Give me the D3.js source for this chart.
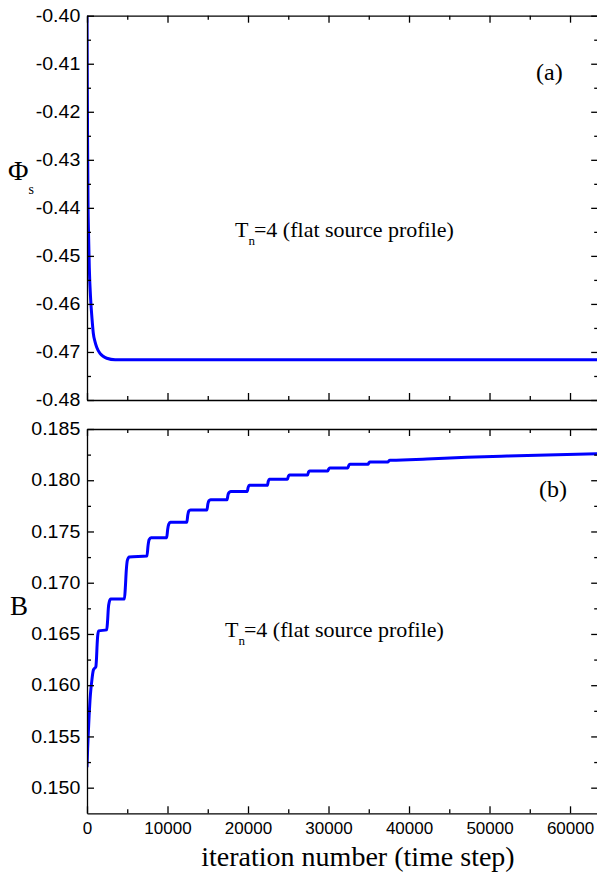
<!DOCTYPE html>
<html>
<head>
<meta charset="utf-8">
<script src="https://cdn.jsdelivr.net/npm/d3@7"></script>
<style>
  body { margin: 0; background: #fff; }
  svg { display: block; }
</style>
</head>
<body>
<div id="chart"></div>
<script>
// x axis (shared)
const xMax = 63500;
const xTicks = [0, 10000, 20000, 30000, 40000, 50000, 60000];
const xMinorTicks = [5000, 15000, 25000, 35000, 45000, 55000];

// panel (a): surface potential
const phiTicks = [-0.48, -0.47, -0.46, -0.45, -0.44, -0.43, -0.42, -0.41, -0.40];
const phiMinorTicks = [-0.475, -0.465, -0.455, -0.445, -0.435, -0.425, -0.415, -0.405];
const phiIter = [0, 40, 80, 124, 200, 286, 460, 620, 783, 1000, 1205, 1615, 2000, 2450, 3500,
  10000, 20000, 30000, 40000, 50000, 63500];
const phiVals = [-0.400, -0.415, -0.428, -0.4384, -0.446, -0.4524, -0.4592, -0.4630, -0.4661, -0.4679,
  -0.4690, -0.4703, -0.4709, -0.4713, -0.4716, -0.4716, -0.4716, -0.4716, -0.4716, -0.4716, -0.4716];

// panel (b): B
const bTicks = [0.150, 0.155, 0.160, 0.165, 0.170, 0.175, 0.180, 0.185];
const bMinorTicks = [0.1525, 0.1575, 0.1625, 0.1675, 0.1725, 0.1775, 0.1825];
const bIter = [0, 80, 160, 260, 370, 480, 580, 700, 800, 1100, 1180, 1260, 1340, 1450,
  2450, 2550, 2650, 2760, 2950, 4650, 4760, 4880, 5020, 5250,
  7450, 7580, 7720, 7950, 9900, 10020, 10150, 10350,
  12400, 12520, 12650, 12850, 14900, 15020, 15150, 15350,
  17400, 17520, 17650, 17850, 19900, 20020, 20150, 20350,
  22400, 22520, 22650, 22850, 24900, 25020, 25150, 25350,
  27400, 27520, 27650, 27850, 29900, 30020, 30150, 30350,
  32400, 32520, 32650, 32850, 34900, 35020, 35150, 35350,
  37400, 37520, 37650, 37850, 40000, 42240, 47200, 52170, 57140, 63500];
const bVals = [0.1520, 0.1538, 0.1553, 0.1570, 0.1585, 0.1596, 0.1603, 0.1611, 0.1615, 0.1618, 0.1626, 0.1640, 0.1649, 0.1653,
  0.1654, 0.1662, 0.1675, 0.1681, 0.1684, 0.1684, 0.1695, 0.1712, 0.1722, 0.1725,
  0.1726, 0.1736, 0.1742, 0.1744, 0.1744, 0.1752, 0.1757, 0.1759,
  0.1759, 0.1766, 0.1770, 0.1771, 0.1771, 0.1777, 0.1780, 0.1781,
  0.1781, 0.1786, 0.1788, 0.1789, 0.1789, 0.1793, 0.1795, 0.1795,
  0.1795, 0.1799, 0.1801, 0.1801, 0.1801, 0.1804, 0.1805, 0.1805,
  0.1805, 0.1808, 0.1809, 0.1809, 0.1809, 0.1811, 0.1812, 0.1812,
  0.1812, 0.18145, 0.18155, 0.18155, 0.18155, 0.18170, 0.18178, 0.18178,
  0.18178, 0.18190, 0.18194, 0.18195, 0.18200, 0.18207, 0.18224, 0.18236, 0.18246, 0.18258];

const W = 597, H = 874;
const left = 87, right = 598.2;
const lineColor = "#0000ff";
const sans = "'Liberation Sans', Arial, sans-serif";
const serif = "'Liberation Serif', 'Times New Roman', serif";

const svg = d3.select("#chart").append("svg")
  .attr("width", W)
  .attr("height", H);

const xScale = d3.scaleLinear().domain([0, xMax]).range([left, right]);

const panels = [
  { top: 15.7, bottom: 400, domain: [-0.48, -0.40], ticks: phiTicks, minor: phiMinorTicks,
    fmt: (d) => d.toFixed(2), iter: phiIter, vals: phiVals, xLabels: false },
  { top: 429, bottom: 813.3, domain: [0.1475, 0.185], ticks: bTicks, minor: bMinorTicks,
    fmt: (d) => d.toFixed(3), iter: bIter, vals: bVals, xLabels: true }
];

const styleAxis = (g) => {
  g.selectAll("path, line").attr("stroke", "#000").attr("stroke-width", 1.3);
  g.selectAll("text").attr("fill", "#000").attr("font-family", sans).attr("font-size", "17px");
};

panels.forEach((p) => {
  const yScale = d3.scaleLinear().domain(p.domain).range([p.bottom, p.top]);
  const data = p.iter.map((it, i) => ({ it, v: p.vals[i] }));

  // curve, clipped to frame
  const clipId = `clip${p.top}`.replace(".", "");
  svg.append("clipPath").attr("id", clipId)
    .append("rect")
    .attr("x", left).attr("y", p.top - 2)
    .attr("width", right - left).attr("height", p.bottom - p.top + 2);

  const line = d3.line()
    .x((d) => xScale(d.it))
    .y((d) => yScale(d.v))
    .curve(d3.curveMonotoneX);

  svg.append("path")
    .datum(data)
    .attr("clip-path", `url(#${clipId})`)
    .attr("fill", "none")
    .attr("stroke", lineColor)
    .attr("stroke-width", 3)
    .attr("stroke-linejoin", "round")
    .attr("d", line);

  // left axis
  const yLeft = svg.append("g")
    .attr("transform", `translate(${left},0)`)
    .call(d3.axisLeft(yScale).tickValues(p.ticks).tickFormat(p.fmt)
      .tickSize(-7).tickSizeOuter(0).tickPadding(6));
  styleAxis(yLeft);
  // labels in the original are a little wider than the font
  yLeft.selectAll("text")
    .attr("font-size", "17.5px")
    .attr("transform", "scale(1.12,1)");
  svg.append("g")
    .attr("transform", `translate(${left},0)`)
    .call(d3.axisLeft(yScale).tickValues(p.minor).tickFormat("").tickSize(-4).tickSizeOuter(0))
    .call((g) => g.select(".domain").remove())
    .call(styleAxis);

  // right axis
  svg.append("g")
    .attr("transform", `translate(${right},0)`)
    .call(d3.axisRight(yScale).tickValues(p.ticks).tickFormat("").tickSize(-7).tickSizeOuter(0))
    .call(styleAxis);
  svg.append("g")
    .attr("transform", `translate(${right},0)`)
    .call(d3.axisRight(yScale).tickValues(p.minor).tickFormat("").tickSize(-4).tickSizeOuter(0))
    .call((g) => g.select(".domain").remove())
    .call(styleAxis);

  // top axis
  svg.append("g")
    .attr("transform", `translate(0,${p.top})`)
    .call(d3.axisTop(xScale).tickValues(xTicks).tickFormat("").tickSize(-7).tickSizeOuter(0))
    .call(styleAxis);
  svg.append("g")
    .attr("transform", `translate(0,${p.top})`)
    .call(d3.axisTop(xScale).tickValues(xMinorTicks).tickFormat("").tickSize(-4).tickSizeOuter(0))
    .call((g) => g.select(".domain").remove())
    .call(styleAxis);

  // bottom axis
  svg.append("g")
    .attr("transform", `translate(0,${p.bottom})`)
    .call(d3.axisBottom(xScale).tickValues(xTicks)
      .tickFormat(p.xLabels ? d3.format("d") : "")
      .tickSize(-7).tickSizeOuter(0).tickPadding(9))
    .call(styleAxis);
  svg.append("g")
    .attr("transform", `translate(0,${p.bottom})`)
    .call(d3.axisBottom(xScale).tickValues(xMinorTicks).tickFormat("").tickSize(-4).tickSizeOuter(0))
    .call((g) => g.select(".domain").remove())
    .call(styleAxis);
});

// axis titles
const phiLabel = svg.append("text")
  .attr("x", 8).attr("y", 180)
  .attr("font-family", serif).attr("font-size", "28px");
phiLabel.append("tspan").text("Φ");
phiLabel.append("tspan").attr("dy", 14).attr("font-size", "14px").text("s");

svg.append("text")
  .attr("x", 10).attr("y", 615)
  .attr("font-family", serif).attr("font-size", "27px")
  .text("B");

svg.append("text")
  .attr("x", (left + W) / 2 + 16).attr("y", 866)
  .attr("text-anchor", "middle")
  .attr("font-family", serif).attr("font-size", "28px")
  .text("iteration number (time step)");

// annotations
const note = (x, y) => {
  const t = svg.append("text")
    .attr("x", x).attr("y", y)
    .attr("font-family", serif).attr("font-size", "22px");
  t.append("tspan").text("T");
  t.append("tspan").attr("dy", 8).attr("font-size", "13px").text("n");
  t.append("tspan").attr("dy", -8).attr("dx", -1).text("=4 (flat source profile)");
};
note(235, 237);
note(225, 637);

svg.append("text")
  .attr("x", 536).attr("y", 80)
  .attr("font-family", serif).attr("font-size", "24px")
  .text("(a)");
svg.append("text")
  .attr("x", 539).attr("y", 497)
  .attr("font-family", serif).attr("font-size", "24px")
  .text("(b)");
</script>
</body>
</html>
